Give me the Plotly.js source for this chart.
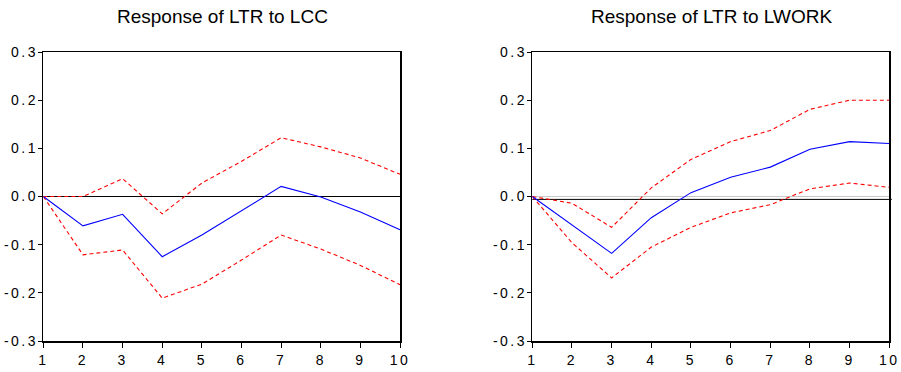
<!DOCTYPE html>
<html>
<head>
<meta charset="utf-8">
<script src="https://cdn.plot.ly/plotly-3.0.1.min.js"></script>
<style>
  html, body { margin: 0; padding: 0; background: #fff; }
  #chart { width: 901px; height: 372px; }
  .xtick text, .ytick text, .x2tick text, .y2tick text { letter-spacing: 2.5px; }
</style>
</head>
<body>
<div id="chart"></div>
<script>
// Periods
const periods = [1, 2, 3, 4, 5, 6, 7, 8, 9, 10];

// Response of LTR to LCC
const lccResponse = [0.000, -0.061, -0.037, -0.125, -0.080, -0.029, 0.021, -0.001, -0.032, -0.069];
const lccUpper    = [0.000, 0.000, 0.037, -0.036, 0.028, 0.073, 0.122, 0.103, 0.080, 0.046];
const lccLower    = [0.000, -0.121, -0.111, -0.211, -0.182, -0.132, -0.080, -0.109, -0.143, -0.183];

// Response of LTR to LWORK
const lworkResponse = [0.000, -0.059, -0.118, -0.044, 0.008, 0.040, 0.061, 0.098, 0.114, 0.110];
const lworkUpper    = [0.000, -0.014, -0.064, 0.018, 0.077, 0.114, 0.137, 0.181, 0.200, 0.200];
const lworkLower    = [0.000, -0.096, -0.169, -0.105, -0.064, -0.034, -0.017, 0.016, 0.028, 0.019];

// Axis ticks
const yTickVals = [-0.3, -0.2, -0.1, 0.0, 0.1, 0.2, 0.3];
const yTickText = ["-0.3", "-0.2", "-0.1", "0.0", "0.1", "0.2", "0.3"];
const xTickVals = periods;
const xTickText = ["1", "2", "3", "4", "5", "6", "7", "8", "9", "10"];

// Titles
const titles = ["Response of LTR to LCC", "Response of LTR to LWORK"];
// Reference (zero) line levels as drawn in each panel
const refLevels = [0.0, -0.006];

const blue = '#0000ff';
const red = '#ff0000';
const font = 'Liberation Sans, Arial, sans-serif';

function tr(y, xa, ya, color, dashed) {
  return {
    x: periods, y: y, xaxis: xa, yaxis: ya, type: 'scatter', mode: 'lines',
    line: { color: color, width: 1.1, dash: dashed ? '4px,3px' : 'solid' },
    hoverinfo: 'skip', showlegend: false
  };
}

const data = [
  tr(lccUpper, 'x', 'y', red, true),
  tr(lccLower, 'x', 'y', red, true),
  tr(lccResponse, 'x', 'y', blue, false),
  tr(lworkUpper, 'x2', 'y2', red, true),
  tr(lworkLower, 'x2', 'y2', red, true),
  tr(lworkResponse, 'x2', 'y2', blue, false)
];

function xax(dom, anchor) {
  return {
    domain: dom, anchor: anchor, range: [1, 10],
    tickmode: 'array', tickvals: xTickVals, ticktext: xTickText,
    ticks: 'outside', ticklen: 5, tickwidth: 1, tickcolor: '#000',
    showline: true, linecolor: '#000', linewidth: 1.5, mirror: true,
    showgrid: false, zeroline: false, ticklabelstandoff: 1,
    tickfont: { family: font, size: 14, color: '#000' }
  };
}
function yax(dom, anchor, zl) {
  return {
    domain: dom, anchor: anchor, range: [-0.3, 0.3],
    tickmode: 'array', tickvals: yTickVals, ticktext: yTickText,
    ticks: 'outside', ticklen: 4, tickwidth: 1, tickcolor: '#000',
    showline: true, linecolor: '#000', linewidth: 1.5, mirror: true,
    showgrid: false, zeroline: zl, zerolinecolor: '#c8c8c8', zerolinewidth: 1,
    ticklabelstandoff: -3,
    tickfont: { family: font, size: 14, color: '#000' }
  };
}

const yDom = [0.0833, 0.8602];
const layout = {
  width: 901, height: 372,
  margin: { l: 0, r: 0, t: 0, b: 0 },
  paper_bgcolor: '#fff', plot_bgcolor: '#fff',
  showlegend: false,
  xaxis: xax([0.0481, 0.4440], 'y'),
  yaxis: yax(yDom, 'x', false),
  xaxis2: xax([0.5908, 0.9870], 'y2'),
  yaxis2: yax(yDom, 'x2', true),
  shapes: [
    { type: 'line', xref: 'x domain', yref: 'y', x0: 0, x1: 1, y0: refLevels[0], y1: refLevels[0],
      line: { color: '#000', width: 1 }, layer: 'below' },
    { type: 'line', xref: 'x2 domain', yref: 'y2', x0: 0, x1: 1.007, y0: refLevels[1], y1: refLevels[1],
      line: { color: '#000', width: 1 }, layer: 'below' }
  ],
  annotations: [
    { text: titles[0], xref: 'paper', yref: 'paper', x: 0.2475, y: 1 - 17 / 372,
      xanchor: 'center', yanchor: 'middle', showarrow: false,
      font: { family: font, size: 19, color: '#000' } },
    { text: titles[1], xref: 'paper', yref: 'paper', x: 0.7897, y: 1 - 17 / 372,
      xanchor: 'center', yanchor: 'middle', showarrow: false,
      font: { family: font, size: 19, color: '#000' } }
  ]
};

Plotly.newPlot('chart', data, layout, { displayModeBar: false, staticPlot: true });
</script>
</body>
</html>
